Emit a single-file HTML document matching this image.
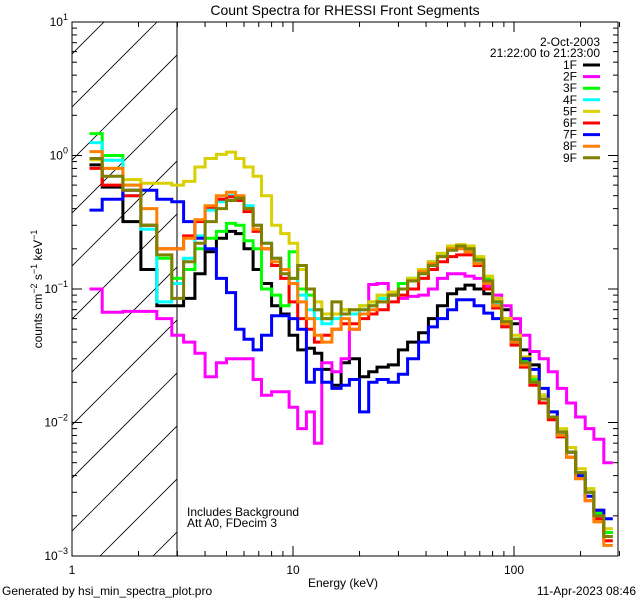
<!DOCTYPE html>
<html><head><meta charset="utf-8"><style>
body{margin:0;background:#fff;}
svg{display:block;font-family:"Liberation Sans","DejaVu Sans",sans-serif;}
</style></head><body>
<svg id="chart" width="640" height="600" viewBox="0 0 640 600" xmlns="http://www.w3.org/2000/svg">
<rect width="640" height="600" fill="#fff"/>
<text x="345" y="15" font-size="14" text-anchor="middle">Count Spectra for RHESSI Front Segments</text>
<defs><clipPath id="hclip"><rect x="72" y="22" width="105" height="534"/></clipPath><clipPath id="pclip"><rect x="72" y="22" width="546" height="534"/></clipPath></defs>
<g id="hatch" clip-path="url(#hclip)"></g>
<line x1="177" y1="22" x2="177" y2="556" stroke="#000" stroke-width="1"/>
<g id="series" clip-path="url(#pclip)"></g>
<rect x="72" y="22" width="546" height="534" fill="none" stroke="#000" stroke-width="1"/>
<g id="axes"></g>
<text transform="translate(42,289) rotate(-90)" font-size="12" text-anchor="middle">counts cm<tspan dy="-5" font-size="9">−2</tspan><tspan dy="5"> s</tspan><tspan dy="-5" font-size="9">−1</tspan><tspan dy="5"> keV</tspan><tspan dy="-5" font-size="9">−1</tspan></text>
<text x="343" y="587" font-size="12" text-anchor="middle">Energy (keV)</text>
<text x="600" y="46" font-size="12" text-anchor="end">2-Oct-2003</text>
<text x="600" y="57" font-size="12" text-anchor="end">21:22:00 to 21:23:00</text>
<text x="187" y="516" font-size="12">Includes Background</text>
<text x="187" y="527" font-size="12">Att A0, FDecim 3</text>
<text x="2" y="595" font-size="12">Generated by hsi_min_spectra_plot.pro</text>
<text x="636" y="595" font-size="12" text-anchor="end">11-Apr-2023 08:46</text>
<g id="legend"></g>
</svg>
<script>
const edges = [1.2,1.37,1.7,2.05,2.42,2.83,3.2,3.6,4.0,4.5,5.0,5.5,6.0,6.6,7.2,8.0,8.8,9.6,10.5,11.5,12.5,13.5,15,16.5,18,20,22,24,27,30,33,37,41,45,50,55,60,66,73,80,88,97,107,118,130,143,157,173,190,210,230,255,280,300];
const seriesNames = ["1F","2F","3F","4F","5F","6F","7F","8F","9F"];
const seriesColors = ["#000000","#ff00ff","#00ff00","#00ffff","#d8d000","#ff0000","#0000ff","#ff8000","#7f7f00"];
const s1F = [0.85,0.58,0.32,0.14,0.075,0.075,0.085,0.13,0.19,0.24,0.27,0.26,0.2,0.14,0.11,0.075,0.065,0.045,0.035,0.036,0.033,0.025,0.019,0.028,0.03,0.022,0.024,0.026,0.027,0.035,0.04,0.047,0.06,0.075,0.092,0.1,0.107,0.1,0.092,0.08,0.07,0.055,0.035,0.027,0.016,0.011,0.008,0.006,0.0042,0.003,0.0022,0.0015];
const s2F = [0.1,0.067,0.068,0.068,0.06,0.045,0.04,0.033,0.022,0.028,0.03,0.03,0.03,0.021,0.016,0.017,0.017,0.013,0.009,0.012,0.007,0.028,0.024,0.03,0.05,0.065,0.108,0.11,0.09,0.085,0.088,0.09,0.1,0.12,0.13,0.13,0.125,0.12,0.105,0.09,0.075,0.06,0.045,0.034,0.03,0.024,0.018,0.014,0.011,0.009,0.0075,0.005];
const s3F = [1.46,1.0,0.6,0.3,0.17,0.12,0.14,0.2,0.24,0.27,0.31,0.3,0.23,0.2,0.1,0.09,0.075,0.19,0.1,0.09,0.07,0.06,0.065,0.07,0.065,0.075,0.08,0.085,0.095,0.11,0.12,0.14,0.16,0.18,0.2,0.21,0.2,0.17,0.12,0.08,0.06,0.042,0.029,0.021,0.016,0.012,0.0085,0.006,0.0042,0.003,0.0021,0.0015];
const s4F = [1.25,0.92,0.5,0.28,0.08,0.11,0.17,0.25,0.39,0.45,0.5,0.48,0.42,0.3,0.22,0.17,0.14,0.12,0.09,0.07,0.06,0.055,0.06,0.065,0.065,0.07,0.075,0.085,0.09,0.1,0.12,0.14,0.16,0.18,0.2,0.21,0.2,0.16,0.115,0.078,0.056,0.04,0.028,0.02,0.015,0.011,0.008,0.006,0.004,0.003,0.002,0.0014];
const s5F = [0.93,0.8,0.66,0.62,0.62,0.6,0.64,0.82,0.95,1.02,1.06,0.95,0.82,0.7,0.5,0.3,0.26,0.22,0.14,0.1,0.08,0.065,0.065,0.07,0.07,0.075,0.08,0.09,0.095,0.1,0.12,0.14,0.16,0.185,0.21,0.215,0.21,0.175,0.125,0.085,0.06,0.045,0.031,0.022,0.016,0.012,0.009,0.0065,0.0045,0.0032,0.0022,0.0016];
const s6F = [0.8,0.6,0.5,0.3,0.2,0.2,0.25,0.32,0.41,0.47,0.49,0.46,0.38,0.27,0.2,0.15,0.12,0.08,0.06,0.05,0.04,0.045,0.05,0.055,0.055,0.06,0.065,0.07,0.08,0.09,0.1,0.12,0.14,0.16,0.175,0.18,0.18,0.15,0.1,0.072,0.052,0.038,0.026,0.019,0.014,0.0105,0.0078,0.0055,0.0038,0.0026,0.0019,0.0013];
const s7F = [0.39,0.47,0.55,0.55,0.47,0.45,0.32,0.24,0.2,0.12,0.094,0.05,0.042,0.035,0.045,0.063,0.063,0.06,0.05,0.02,0.025,0.02,0.018,0.019,0.021,0.012,0.02,0.021,0.02,0.023,0.03,0.04,0.052,0.06,0.07,0.083,0.083,0.075,0.066,0.06,0.055,0.04,0.03,0.025,0.018,0.012,0.008,0.006,0.004,0.0028,0.0022,0.0019];
const s8F = [1.07,0.8,0.6,0.4,0.2,0.2,0.24,0.33,0.42,0.5,0.53,0.5,0.4,0.28,0.2,0.16,0.14,0.11,0.08,0.06,0.045,0.04,0.05,0.06,0.05,0.065,0.07,0.08,0.09,0.1,0.115,0.135,0.155,0.175,0.2,0.2,0.19,0.155,0.11,0.075,0.055,0.04,0.027,0.02,0.015,0.011,0.008,0.0055,0.0038,0.0026,0.0018,0.0012];
const s9F = [0.95,0.7,0.55,0.3,0.18,0.085,0.16,0.22,0.32,0.4,0.46,0.48,0.4,0.3,0.22,0.17,0.13,0.12,0.15,0.1,0.07,0.06,0.08,0.065,0.07,0.07,0.075,0.08,0.09,0.1,0.115,0.13,0.15,0.175,0.195,0.21,0.2,0.165,0.115,0.08,0.057,0.042,0.028,0.02,0.015,0.011,0.0085,0.006,0.0042,0.003,0.002,0.0014];
const seriesValues = [s1F,s2F,s3F,s4F,s5F,s6F,s7F,s8F,s9F];
const xTickMajor = [1,10,100];
const xTickLabels = ["1","10","100"];
const yTickExps = [-3,-2,-1,0,1];

const NS="http://www.w3.org/2000/svg";
const L=72,R=618,T=22,B=556;
const xDec=221, yDec=(B-T)/4;
function xs(e){return L+Math.log10(e)*xDec;}
function ys(v){return T+(1-Math.log10(v))*yDec;}
function mk(tag,attrs,parent){const el=document.createElementNS(NS,tag);for(const k in attrs)el.setAttribute(k,attrs[k]);parent.appendChild(el);return el;}

// hatch
const hatch=document.getElementById('hatch');
for(let i=-12;i<4;i++){
  const x0=100+i*53;
  const ln=mk('line',{x1:x0,y1:B,x2:x0+600,y2:B-600,stroke:'#000','stroke-width':0.8},hatch);
  
  
}

// series
const sg=document.getElementById('series');
seriesValues.forEach((vals,si)=>{
  let d='';
  vals.forEach((v,i)=>{
    const x0=xs(edges[i]).toFixed(1),x1=xs(edges[i+1]).toFixed(1),y=ys(v).toFixed(1);
    d+=(i===0?'M':'L')+x0+','+y+'L'+x1+','+y;
  });
  const p=mk('path',{d:d,fill:'none',stroke:seriesColors[si],'stroke-width':3,'stroke-linejoin':'miter'},sg);
  
  
});

// axes ticks
const ax=document.getElementById('axes');
for(let dec=0;dec<3;dec++){
  for(let m=1;m<10;m++){
    const e=m*Math.pow(10,dec); if(e>300)break;
    const x=xs(e); const len=m===1?10:5;
    mk('line',{x1:x,y1:B,x2:x,y2:B-len,stroke:'#000'},ax);
    mk('line',{x1:x,y1:T,x2:x,y2:T+len,stroke:'#000'},ax);
  }
}
xTickMajor.forEach((e,i)=>{
  const t=mk('text',{x:xs(e),y:B+18,'font-size':12,'text-anchor':'middle'},ax);
  t.textContent=xTickLabels[i];
  
  
});
for(let ex=-3;ex<1;ex++){
  for(let m=1;m<10;m++){
    const v=m*Math.pow(10,ex); const y=ys(v); const len=m===1?10:5;
    mk('line',{x1:L,y1:y,x2:L+len,y2:y,stroke:'#000'},ax);
    mk('line',{x1:R,y1:y,x2:R-len,y2:y,stroke:'#000'},ax);
  }
}
yTickExps.forEach(ex=>{
  const y=ys(Math.pow(10,ex));
  const t=mk('text',{x:L-4,y:y+4,'font-size':12,'text-anchor':'end'},ax);
  
  
  t.appendChild(document.createTextNode('10'));
  const sp=mk('tspan',{dy:-6,'font-size':9},t);
  sp.textContent=String(ex).replace('-','−');
});

// legend
const lg=document.getElementById('legend');
seriesNames.forEach((n,i)=>{
  const y=65+i*11.6;
  const g=mk('g',{},lg);
  
  
  const t=mk('text',{x:577,y:y+4,'font-size':12,'text-anchor':'end'},g);
  t.textContent=n;
  mk('line',{x1:583,y1:y,x2:600,y2:y,stroke:seriesColors[i],'stroke-width':3},g);
});
</script>
</body></html>
